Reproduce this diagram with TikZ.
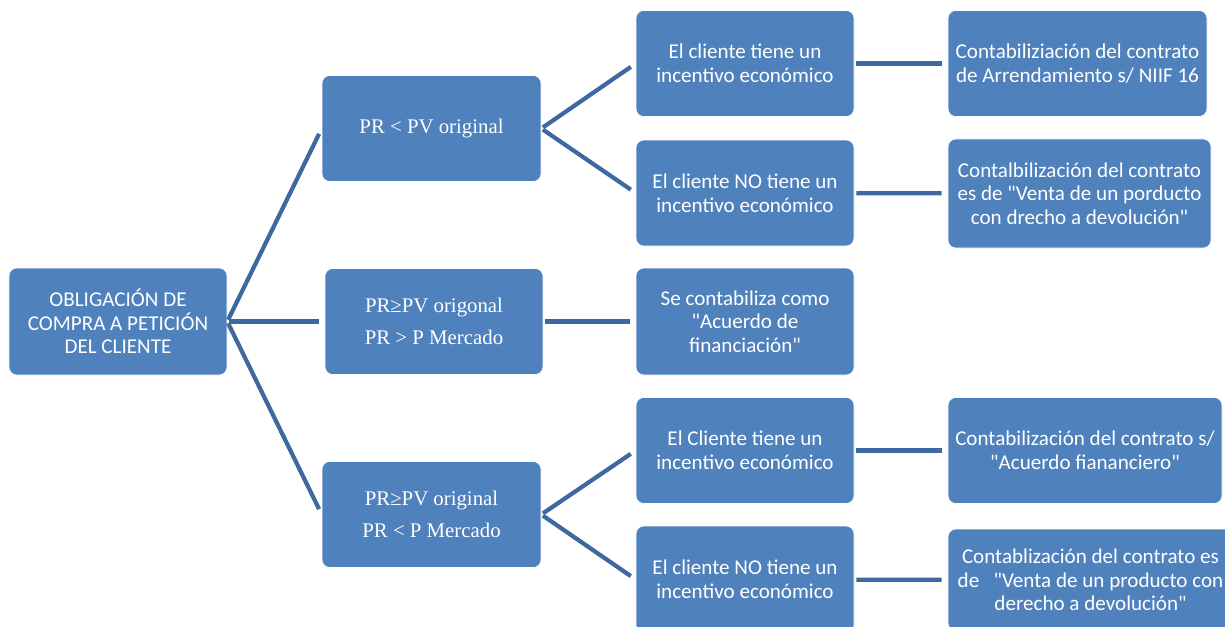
\documentclass[tikz,border=0pt]{standalone}
\usepackage{fontspec}
\setmainfont{Carlito}[Ligatures=TeXOff]
\newfontfamily\serifrm{Liberation Serif}
\usepackage{tikz}
\usetikzlibrary{positioning}
\definecolor{smblue}{RGB}{79,129,189}
\definecolor{smline}{RGB}{62,104,160}
\tikzstyle{link} = [line width=3pt, color=smline, shorten <=0.05cm, shorten >=0.15cm]
\tikzstyle{box} = [rectangle, rounded corners=0.2cm, minimum width=5.45cm, minimum height=2.65cm, align=center, draw=white, line width=0.4pt, fill=smblue, text=white, font={\fontsize{15}{16.8}\selectfont}]
\tikzstyle{cond} = [box, font={\serifrm\fontsize{14.8}{22.7}\selectfont}]

\begin{document}
\begin{tikzpicture}
\useasboundingbox (0,0) rectangle (30.625,-15.675);
% Root
\node[box, minimum height=2.675cm] (oblig) at (2.95,-8.0375) {OBLIGACIÓN DE\\COMPRA A PETICIÓN\\DEL CLIENTE};

% Conditions
\node[cond, minimum width=5.475cm] (pvmenor) at (10.7875,-3.2125) {PR < PV original};
\node[cond, minimum width=5.45cm] (pmmayor) at (10.85,-8.0375) {PR≥PV origonal\\PR > P Mercado};
\node[cond, minimum width=5.475cm] (pmmenor) at (10.7875,-12.8625) {PR≥PV original\\PR < P Mercado};

% Incentives
\node[box] (incsia) at (18.625,-1.5875) {El cliente tiene un\\incentivo económico};
\node[box] (incnoa) at (18.625,-4.825) {El cliente NO tiene un\\incentivo económico};
\node[box, minimum height=2.675cm] (acuerdo) at (18.625,-8.0375) {Se contabiliza como\\"Acuerdo de\\financiación"};
\node[box] (incsib) at (18.625,-11.2625) {El Cliente tiene un\\incentivo económico};
\node[box, minimum height=2.675cm] (incnob) at (18.625,-14.4875) {El cliente NO tiene un\\incentivo económico};

% Accounting
\node[box, minimum width=6.475cm] (arrend) at (26.9375,-1.5875) {Contabiliziación del contrato\\de Arrendamiento s/ NIIF 16};
\node[box, minimum width=6.575cm, minimum height=2.725cm] (ventaa) at (26.9875,-4.8375) {Contalbilización del contrato\\es de "Venta de un porducto\\con drecho a devolución"};
\node[box, minimum width=6.85cm] (financ) at (27.125,-11.2625) {Contabilización del contrato s/\\"Acuerdo fiananciero"};
\node[box, minimum width=7.125cm, minimum height=2.55cm] (ventab) at (27.2625,-14.5) {Contablización del contrato es\\de~~~"Venta de un producto con\\derecho a devolución"};

\draw[link] (oblig.east) -- (pvmenor.west);
\draw[link] (oblig.east) -- (pmmayor.west);
\draw[link] (oblig.east) -- (pmmenor.west);

\draw[link] (pvmenor.east) -- (incsia.west);
\draw[link] (pvmenor.east) -- (incnoa.west);
\draw[link] (pmmayor.east) -- (acuerdo.west);
\draw[link] (pmmenor.east) -- (incsib.west);
\draw[link] (pmmenor.east) -- (incnob.west);

\draw[link] (incsia) -- (arrend);
\draw[link] (incnoa) -- (ventaa);
\draw[link] (incsib) -- (financ);
\draw[link] (incnob) -- (ventab);
\end{tikzpicture}
\end{document}
